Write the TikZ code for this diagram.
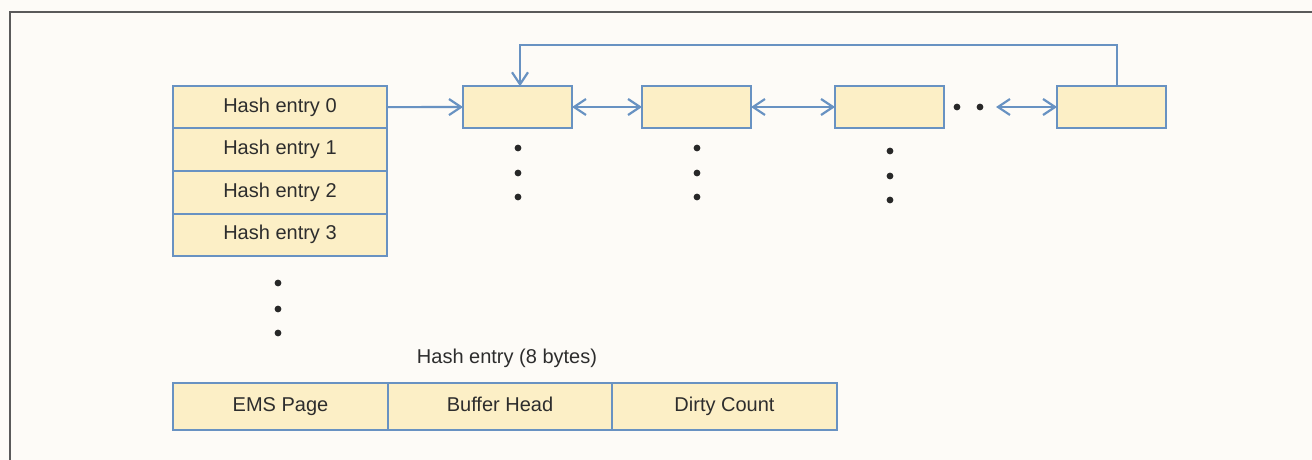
\documentclass[tikz,border=0pt]{standalone}
\usepackage{fontspec}
\setmainfont{Liberation Sans}
\usetikzlibrary{arrows.meta, positioning}
\definecolor{linkblue}{RGB}{104,146,194}
\definecolor{bufyellow}{RGB}{252,239,198}
\definecolor{dotgray}{RGB}{40,40,40}
\definecolor{inkgray}{RGB}{45,45,45}
\definecolor{framegray}{RGB}{90,90,90}
\definecolor{paper}{RGB}{253,251,247}
\tikzstyle{entry} = [rectangle, draw=linkblue, fill=bufyellow, minimum width=107pt, minimum height=21.25pt, line width=1pt, inner sep=0pt, outer sep=0pt, text height=7.2pt, text depth=2pt, text=inkgray, font=\fontsize{10}{12}\selectfont]
\tikzstyle{buffer} = [rectangle, draw=linkblue, fill=bufyellow, minimum width=54.5pt, minimum height=20.75pt, line width=1pt, outer sep=0pt]
\tikzstyle{field} = [entry, minimum height=23.5pt]
\tikzstyle{link} = [-{Straight Barb[length=6pt, width=8pt]}, draw=linkblue, line width=1.1pt]
\tikzstyle{dlink} = [{Straight Barb[length=6pt, width=8pt]}-{Straight Barb[length=6pt, width=8pt]}, draw=linkblue, line width=1.1pt]

\begin{document}
\begin{tikzpicture}[x=0.5pt, y=-0.5pt]
    % Page and frame
    \fill[paper] (0,0) rectangle (1312,460);
    \useasboundingbox (0,0) rectangle (1312,460);
    \draw[framegray, line width=1pt] (10,460) -- (10,12) -- (1312,12);

    % Hash table
    \node[entry] (h0) at (280,107.25) {Hash entry 0};
    \node[entry, below=0pt of h0] (h1) {Hash entry 1};
    \node[entry, below=0pt of h1] (h2) {Hash entry 2};
    \node[entry, below=0pt of h2] (h3) {Hash entry 3};

    % Buffer chain
    \node[buffer] (b1) at (517.5,107) {};
    \node[buffer] (b2) at (696.5,107) {};
    \node[buffer] (b3) at (889.5,107) {};
    \node[buffer] (b4) at (1111.5,107) {};
    \coordinate (gap) at (996,107);
    \coordinate (loopR) at (1117,45);
    \coordinate (loopL) at (520,45);

    % Arrows
    \draw[link] (h0) -- (b1);
    \draw[dlink] (b1) -- (b2);
    \draw[dlink] (b2) -- (b3);
    \draw[dlink] (gap) -- (b4);
    \draw[link] (b4.north -| loopR) -- (loopR) -- (loopL) -- (b1.north -| loopL);

    % Dots
    \foreach \x in {957, 980}
        \fill[dotgray] (\x,107) circle (1.7pt);
    \foreach \y in {148, 173, 197} {
        \fill[dotgray] (518,\y) circle (1.7pt);
        \fill[dotgray] (697,\y) circle (1.7pt);
        \fill[dotgray] (890,\y+3) circle (1.7pt);
    }
    \foreach \y in {283, 309, 333}
        \fill[dotgray] (278,\y) circle (1.7pt);

    % Entry layout
    \node[text=inkgray, font=\fontsize{10}{12}\selectfont] (caption) at (507,358) {Hash entry (8 bytes)};
    \node[field, minimum width=107.5pt] (page) at (280.5,406.5) {EMS Page};
    \node[field, minimum width=112pt, right=0pt of page] (head) {Buffer Head};
    \node[field, minimum width=112.5pt, right=0pt of head] (dirty) {Dirty Count};
\end{tikzpicture}
\end{document}
